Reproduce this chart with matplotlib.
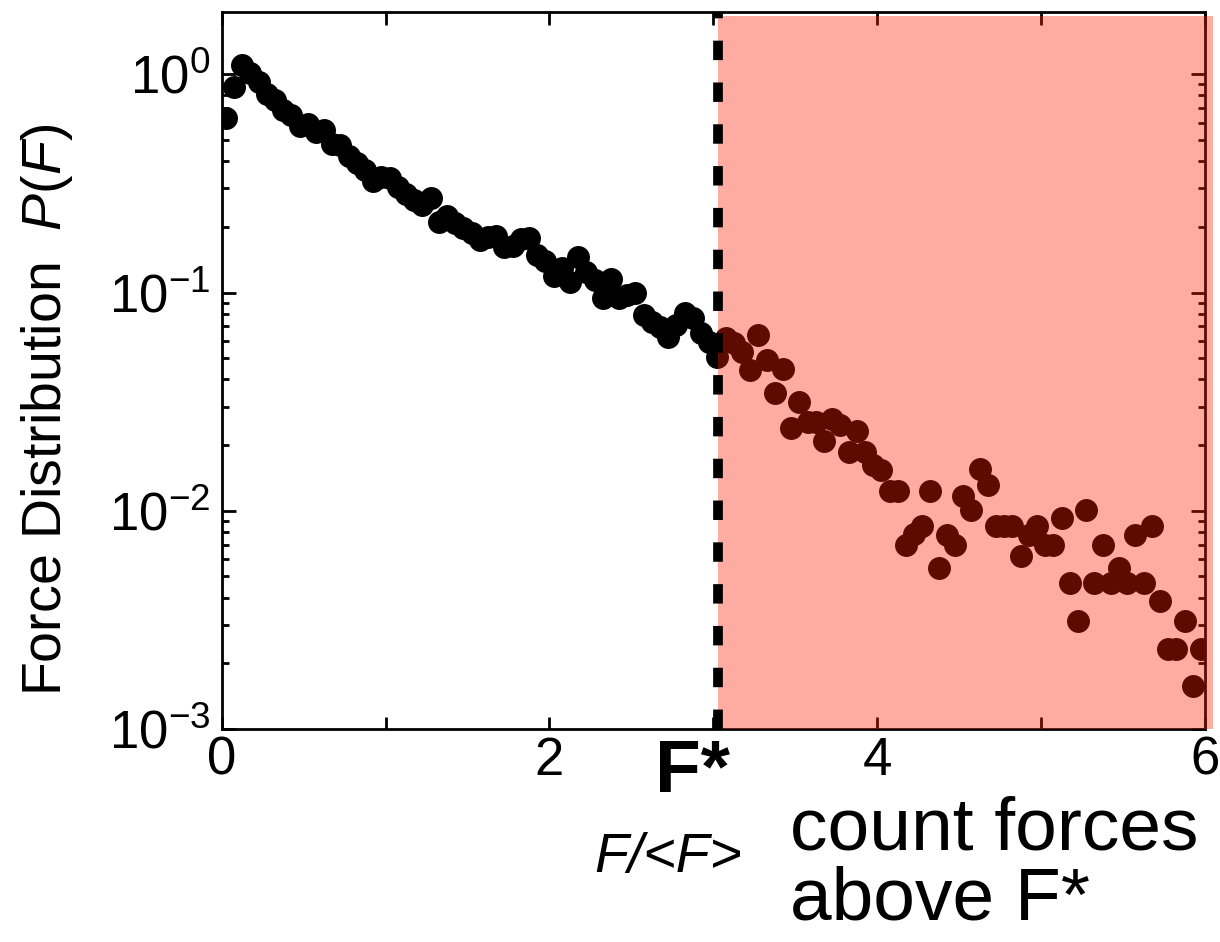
import matplotlib
matplotlib.use('Agg')
import matplotlib.pyplot as plt
import numpy as np

plt.rcParams['font.family'] = ['Liberation Sans', 'DejaVu Sans']
plt.rcParams['mathtext.fontset'] = 'custom'
plt.rcParams['mathtext.rm'] = 'Liberation Sans'
plt.rcParams['mathtext.it'] = 'Liberation Sans:italic'
plt.rcParams['mathtext.bf'] = 'Liberation Sans:bold'

# bin centres F/<F> (width 0.05) and measured force distribution P(F)
force = np.arange(120) * 0.05 + 0.025
prob = [
    0.634, 0.879, 1.103, 1.019, 0.922, 0.812, 0.763, 0.686, 0.651, 0.580,
    0.592, 0.546, 0.556, 0.479, 0.474, 0.422, 0.392, 0.364, 0.324, 0.340,
    0.334, 0.305, 0.283, 0.266, 0.252, 0.270, 0.211, 0.224, 0.208, 0.198,
    0.1875, 0.175, 0.180, 0.1817, 0.1623, 0.1635, 0.176, 0.177, 0.1487, 0.1395,
    0.119, 0.130, 0.112, 0.1448, 0.1246, 0.1142, 0.0942, 0.1154, 0.0945, 0.0975,
    0.0996, 0.0789, 0.0733, 0.0696, 0.0626, 0.0711, 0.0804, 0.0763, 0.0651, 0.0594,
    0.0508, 0.0617, 0.0588, 0.0536, 0.0442, 0.0639, 0.0491, 0.0348, 0.0445, 0.0240,
    0.0316, 0.0256, 0.0256, 0.0209, 0.0264, 0.0247, 0.0185, 0.0232, 0.0186, 0.0162,
    0.0154, 0.01238, 0.01238, 0.00698, 0.00784, 0.00853, 0.01238, 0.00545, 0.00776, 0.00698,
    0.01164, 0.01010, 0.01555, 0.01314, 0.00853, 0.00853, 0.00853, 0.00622, 0.00776, 0.00853,
    0.00698, 0.00698, 0.00928, 0.00466, 0.00311, 0.01010, 0.00466, 0.00698, 0.00466, 0.00548,
    0.00466, 0.00776, 0.00466, 0.00853, 0.00388, 0.00232, 0.00232, 0.00311, 0.00157, 0.00232,
]
f_star = 3.03
x_ticks = [0, 1, 2, 3, 4, 5, 6]
x_ticklabels = ['0', '', '2', '', '4', '', '6']

fig = plt.figure(figsize=(12.2, 9.42), dpi=100)
ax = fig.add_axes([0.1817, 0.2261, 0.8060, 0.7615])

ax.plot(force, prob, 'o', color='black', ms=15.5, zorder=2)

ax.axvspan(f_star, 6.05, ymin=0, ymax=0.994, color='#fe2000', alpha=0.37,
           lw=0, zorder=3, clip_on=False)
ax.axvline(f_star, color='black', lw=7, dashes=(2.0, 2.3), zorder=4)

ax.set_yscale('log')
ax.set_xlim(0, 6)
ax.set_ylim(1e-3, 10 ** 0.287)
ax.set_xticks(x_ticks)
ax.set_xticklabels(x_ticklabels)

for s in ax.spines.values():
    s.set_linewidth(2)
ax.tick_params(which='both', direction='in', top=True, right=True,
               labelsize=38, width=2)
ax.tick_params(axis='x', length=9, pad=5)
ax.tick_params(axis='y', which='major', length=10, pad=8)
ax.tick_params(axis='y', which='minor', length=5)

fig.text(47 / 1220, 1 - 410 / 942, 'Force Distribution  $P(F)$', fontsize=40,
         rotation=90, ha='center', va='center')

fig.text(693 / 1220, 1 - 772 / 942, 'F*', fontsize=54, fontweight='bold',
         ha='center', va='center')
fig.text(668 / 1220, 1 - 858 / 942, 'F/<F>', fontsize=40, style='italic',
         ha='center', va='center')
fig.text(790 / 1220, 1 - 865 / 942, 'count forces\nabove F*', fontsize=54,
         ha='left', va='center', linespacing=1.0)

fig.savefig('out.png', dpi=100)
